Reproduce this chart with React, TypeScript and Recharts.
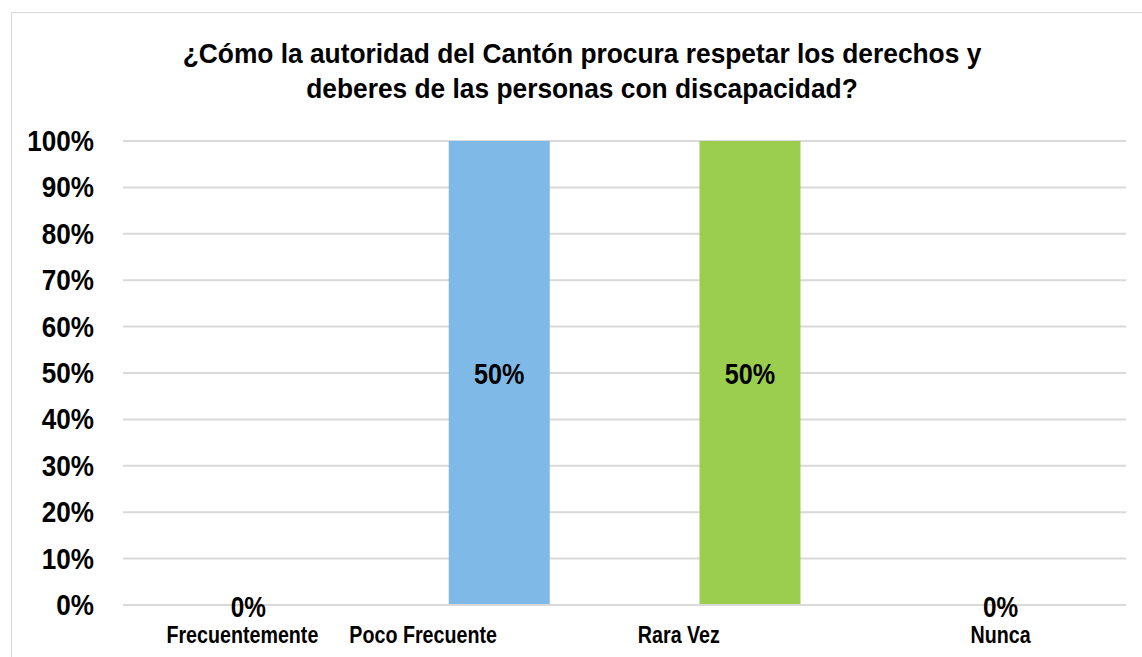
import { BarChart, Bar, XAxis, YAxis, CartesianGrid, LabelList, Cell } from "recharts";

const categories = ["Frecuentemente", "Poco Frecuente", "Rara Vez", "Nunca"];
const barValues = [0, 100, 100, 0];
const valueLabels = ["0%", "50%", "50%", "0%"];
const barColors = ["#7fb9e8", "#7fb9e8", "#9bce4e", "#9bce4e"];
const yTicks = [0, 10, 20, 30, 40, 50, 60, 70, 80, 90, 100];

const title1 = "¿Cómo la autoridad del Cantón procura respetar los derechos y";
const title2 = "deberes de las personas con discapacidad?";

const data = categories.map((name, i) => ({
  name,
  value: barValues[i],
  label: valueLabels[i],
}));

// the excel labels sit a bit left of the bars
const tickShift = [-6, -76, -71, 0];

const FONT = '"Liberation Sans", Arial, sans-serif';

// no Arial Narrow here, so squeeze Liberation Sans horizontally
const Narrow = ({ x, y, size, anchor = "middle", sx = 0.84, children }: any) => (
  <text
    transform={`translate(${x},${y}) scale(${sx},1)`}
    textAnchor={anchor}
    fontFamily={FONT}
    fontWeight="bold"
    fontSize={size}
    fill="#000"
  >
    {children}
  </text>
);

const CategoryTick = (props: any) => {
  const { x, y, payload, index } = props;
  return (
    <g>
      {barValues[index] === 0 && (
        <Narrow x={x} y={y + 4} size={29}>
          {valueLabels[index]}
        </Narrow>
      )}
      <Narrow x={x + (tickShift[index] || 0)} y={y + 30} size={24} sx={0.82}>
        {payload.value}
      </Narrow>
    </g>
  );
};

const ValueTick = (props: any) => {
  const { x, y, payload } = props;
  return (
    <Narrow x={x} y={y + 10} size={29} anchor="end" sx={0.9}>
      {`${payload.value}%`}
    </Narrow>
  );
};

const ValueLabel = (props: any) => {
  const { x, y, width, height, value } = props;
  if (!height) return null;
  return (
    <Narrow x={x + width / 2} y={y + height / 2 + 11} size={30} sx={0.84}>
      {value}
    </Narrow>
  );
};

export default function App() {
  return (
    <div style={{ position: "absolute", left: 0, top: 0, width: 1142, height: 657, background: "#fff", overflow: "hidden" }}>
      <div
        style={{
          position: "absolute",
          left: 11,
          top: 12,
          width: 1160,
          height: 680,
          border: "1.5px solid #d9d9d9",
        }}
      />
      <div
        style={{
          position: "absolute",
          left: 11,
          top: 36,
          width: 1142,
          textAlign: "center",
          fontFamily: FONT,
          fontWeight: "bold",
          fontSize: 28,
          lineHeight: "35px",
          color: "#000",
          transform: "scaleX(0.94)",
          transformOrigin: "571px 0",
        }}
      >
        <div>{title1}</div>
        <div>{title2}</div>
      </div>
      <div style={{ position: "absolute", left: 0, top: 0 }}>
        <BarChart
          width={1142}
          height={657}
          data={data}
          margin={{ top: 141, right: 16, bottom: 0, left: 0 }}
          barCategoryGap={0}
        >
          <CartesianGrid vertical={false} stroke="#d9d9d9" strokeWidth={2} />
          <XAxis
            dataKey="name"
            axisLine={{ stroke: "#d9d9d9", strokeWidth: 2 }}
            tickLine={false}
            tick={<CategoryTick />}
            interval={0}
            height={52}
          />
          <YAxis
            width={123}
            domain={[0, 100]}
            ticks={yTicks}
            axisLine={false}
            tickLine={false}
            tickMargin={23}
            tick={<ValueTick />}
          />
          <Bar dataKey="value" barSize={101} isAnimationActive={false}>
            {data.map((d, i) => (
              <Cell key={d.name} fill={barColors[i]} />
            ))}
            <LabelList dataKey="label" content={<ValueLabel />} />
          </Bar>
        </BarChart>
      </div>
    </div>
  );
}
